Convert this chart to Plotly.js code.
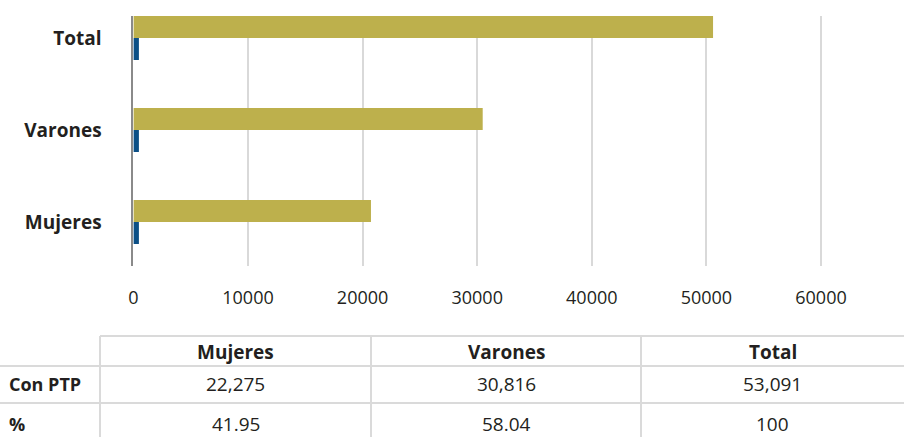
<!DOCTYPE html>
<html>
<head>
<meta charset="utf-8">
<script src="https://cdn.plot.ly/plotly-3.0.1.min.js"></script>
<style>html,body{margin:0;padding:0;background:#fff;}#chart{width:904px;height:437px;}</style>
</head>
<body>
<div id="chart"></div>
<script>
// ---- data ----
var categories = ['Mujeres', 'Varones', 'Total'];
var conPtpBars = [20730, 30480, 50580];
var smallBars = [480, 480, 480];
var xTickVals = [0, 10000, 20000, 30000, 40000, 50000, 60000];
var tableCols = ['Mujeres', 'Varones', 'Total'];
var rowLabels = ['Con PTP', '%'];
var rowConPtp = ['22,275', '30,816', '53,091'];
var rowPct = ['41.95', '58.04', '100'];

// ---- layout helpers ----
var W = 904, H = 437;
function px(x) { return x / W; }
function py(y) { return 1 - y / H; }
var FONT = 'Open Sans, Noto Sans, sans-serif';
var TXT = '#231f20';
var LINE = '#dadada';

var traces = [
  {type: 'bar', orientation: 'h', y: categories, x: smallBars,
   marker: {color: '#0c4f85', line: {width: 0}}, hoverinfo: 'x'},
  {type: 'bar', orientation: 'h', y: categories, x: conPtpBars,
   marker: {color: '#bdb04c', line: {width: 0}}, hoverinfo: 'x'}
];

var shapes = [];
var annotations = [];
function hline(x0, x1, y) {
  shapes.push({type: 'line', xref: 'paper', yref: 'paper', x0: px(x0), x1: px(x1), y0: py(y), y1: py(y),
    line: {color: LINE, width: 2}});
}
function vline(x, y0, y1) {
  shapes.push({type: 'line', xref: 'paper', yref: 'paper', x0: px(x), x1: px(x), y0: py(y0), y1: py(y1),
    line: {color: LINE, width: 2}});
}
// table grid
var colEdges = [100, 371, 641, 904];
var rowEdges = [336, 366, 403, 437];
hline(100, 904, rowEdges[0]);
hline(0, 904, rowEdges[1]);
hline(0, 904, rowEdges[2]);
for (var i = 0; i < 3; i++) vline(colEdges[i], rowEdges[0], H);

function txt(text, x, y, bold, anchor, size) {
  annotations.push({xref: 'paper', yref: 'paper', x: px(x), y: py(y), text: bold ? '<b>' + text + '</b>' : text,
    showarrow: false, xanchor: anchor || 'center', yanchor: 'middle',
    font: {family: FONT, size: size || 19, color: TXT}});
}
var rowCenters = [352, 383.5, 423.5];
for (var c = 0; c < tableCols.length; c++) {
  var cx = (colEdges[c] + colEdges[c + 1]) / 2;
  txt(tableCols[c], cx, rowCenters[0], true);
  txt(rowConPtp[c], cx, rowCenters[1], false);
  txt(rowPct[c], cx, rowCenters[2], false);
}
txt(rowLabels[0], 7, rowCenters[1], true, 'left', 18);
txt(rowLabels[1], 7, rowCenters[2], true, 'left', 18);

var layout = {
  width: W, height: H,
  margin: {l: 0, r: 0, t: 0, b: 0},
  paper_bgcolor: '#ffffff', plot_bgcolor: '#ffffff',
  showlegend: false,
  barmode: 'group', bargap: 0.52, bargroupgap: 0,
  font: {family: FONT, color: TXT},
  xaxis: {
    domain: [px(133.4), px(133.4 + 6.3 * 114.6)],
    range: [0, 63000],
    tickvals: xTickVals, ticktext: xTickVals.map(String),
    showgrid: true, gridcolor: '#d9d9d9', gridwidth: 2,
    zeroline: false, showline: false, ticks: '',
    ticklabelstandoff: 19,
    tickfont: {family: FONT, size: 18, color: TXT}
  },
  yaxis: {
    domain: [py(266), py(16)],
    type: 'category',
    range: [-0.478, 2.239],
    showgrid: false, zeroline: false,
    showline: true, linecolor: '#8a8a8a', linewidth: 2,
    ticks: '', ticklabelstandoff: 26,
    tickfont: {family: FONT, size: 19, color: TXT},
    tickprefix: '<b>', ticksuffix: '</b>'
  },
  shapes: shapes,
  annotations: annotations
};

Plotly.newPlot('chart', traces, layout, {displayModeBar: false, staticPlot: true});
</script>
</body>
</html>
